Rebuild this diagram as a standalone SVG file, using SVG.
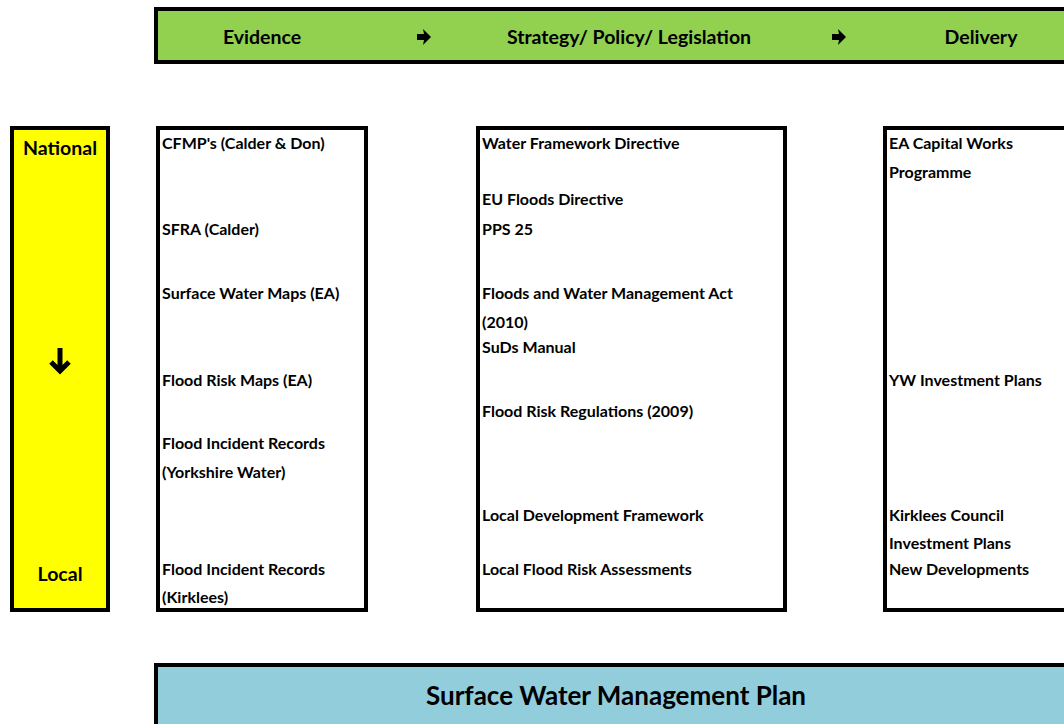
<svg xmlns="http://www.w3.org/2000/svg" width="1064" height="724" viewBox="0 0 1064 724">
  <style>
    .box { stroke: #000; stroke-width: 4; }
    .t { font-family: Lato, "Open Sans", "Liberation Sans", sans-serif; font-weight: 700; fill: #000; }
    .item { font-size: 16px; }
    .head { font-size: 19.5px; text-anchor: middle; }
    .arrow { fill: #000; }
    .darrow { fill: none; stroke: #000; stroke-width: 5; stroke-linejoin: miter; }
  </style>
  <defs>
    <!-- heavy right arrow used between the stages -->
    <polygon id="rarrow" points="-7,-3 0,-3 -1,-8 7,0 -1,8 0,3 -7,3"/>
  </defs>
  <rect width="1064" height="724" fill="#fff"/>

  <!-- top process bar -->
  <g id="header">
    <rect class="box" x="156" y="9" width="920" height="53" fill="#92D050"/>
    <text class="t head" x="262" y="44">Evidence</text>
    <text class="t head" x="629" y="44">Strategy/ Policy/ Legislation</text>
    <text class="t head" x="981" y="44">Delivery</text>
  </g>

  <!-- scale: national to local -->
  <g id="scale">
    <rect class="box" x="12" y="128" width="96" height="482" fill="#FFFF00"/>
    <text class="t head" x="60" y="155">National</text>
    <text class="t head" x="60" y="581">Local</text>
  </g>

  <g id="evidence">
    <rect class="box" x="158" y="128" width="208" height="482" fill="#fff"/>
    <text class="t item" x="162" y="149">CFMP's (Calder &amp; Don)</text>
    <text class="t item" x="162" y="235">SFRA (Calder)</text>
    <text class="t item" x="162" y="299">Surface Water Maps (EA)</text>
    <text class="t item" x="162" y="386">Flood Risk Maps (EA)</text>
    <text class="t item" x="162" y="449">Flood Incident Records</text>
    <text class="t item" x="162" y="478">(Yorkshire Water)</text>
    <text class="t item" x="162" y="575">Flood Incident Records</text>
    <text class="t item" x="162" y="603">(Kirklees)</text>
  </g>

  <g id="strategy">
    <rect class="box" x="478" y="128" width="307" height="482" fill="#fff"/>
    <text class="t item" x="482" y="149">Water Framework Directive</text>
    <text class="t item" x="482" y="205">EU Floods Directive</text>
    <text class="t item" x="482" y="235">PPS 25</text>
    <text class="t item" x="482" y="299">Floods and Water Management Act</text>
    <text class="t item" x="482" y="328">(2010)</text>
    <text class="t item" x="482" y="353">SuDs Manual</text>
    <text class="t item" x="482" y="417">Flood Risk Regulations (2009)</text>
    <text class="t item" x="482" y="521">Local Development Framework</text>
    <text class="t item" x="482" y="575">Local Flood Risk Assessments</text>
  </g>

  <g id="delivery">
    <rect class="box" x="885" y="128" width="200" height="482" fill="#fff"/>
    <text class="t item" x="889" y="149">EA Capital Works</text>
    <text class="t item" x="889" y="178">Programme</text>
    <text class="t item" x="889" y="386">YW Investment Plans</text>
    <text class="t item" x="889" y="521">Kirklees Council</text>
    <text class="t item" x="889" y="549">Investment Plans</text>
    <text class="t item" x="889" y="575">New Developments</text>
  </g>

  <!-- outcome bar -->
  <g id="outcome">
    <rect class="box" x="156" y="665" width="920" height="80" fill="#92CDDC"/>
    <text class="t" x="616" y="705" font-size="26" text-anchor="middle">Surface Water Management Plan</text>
  </g>

  <!-- arrows drawn last so they sit on top of the filled boxes -->
  <g id="connectors">
    <use href="#rarrow" class="arrow" x="424" y="37"/>
    <use href="#rarrow" class="arrow" x="839" y="37"/>
    <path class="darrow" d="M60,348 V371 M51,362 L60,371 L69,362"/>
  </g>
</svg>
